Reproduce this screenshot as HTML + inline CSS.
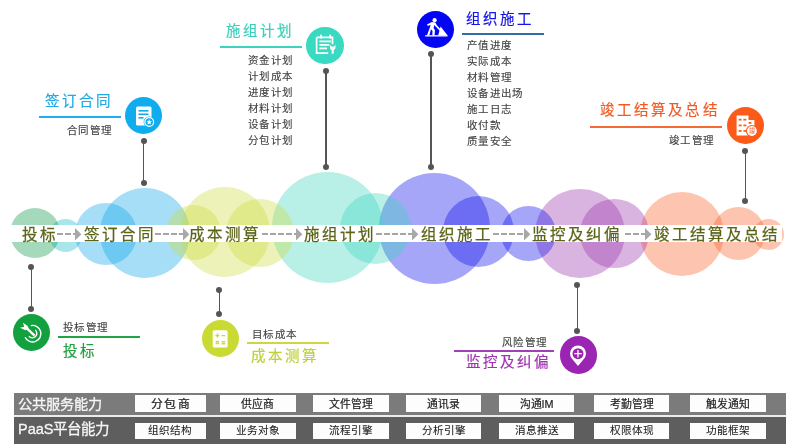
<!DOCTYPE html>
<html lang="zh-CN"><head><meta charset="utf-8">
<style>
html,body{margin:0;padding:0}
body{width:800px;height:444px;overflow:hidden;background:#fff;position:relative;font-family:"Liberation Sans",sans-serif}
.c{position:absolute;border-radius:50%}
.band{position:absolute;left:10px;top:225px;width:772px;height:17px;background:#fff}
.bt{position:absolute;top:223.9px;font-size:15.5px;line-height:22px;letter-spacing:2px;color:#5c6418;white-space:nowrap;-webkit-text-stroke:0.25px #5c6418;will-change:transform}
.ds{position:absolute;top:233.3px;height:1.4px;background:repeating-linear-gradient(90deg,#a6a6a6 0,#a6a6a6 5.7px,transparent 5.7px,transparent 8.1px)}
.ah{position:absolute;top:228px}
.ln{position:absolute;width:1.6px;background:#555}
.dt{position:absolute;width:6px;height:6px;border-radius:50%;background:#555}
.ic{position:absolute;width:37.4px;height:37.4px;border-radius:50%;overflow:hidden}
.ic svg{position:absolute;left:-0.3px;top:-0.3px}
.t{position:absolute;white-space:nowrap;will-change:transform}
.h{font-size:14.5px;line-height:20px;letter-spacing:3.1px;-webkit-text-stroke:0.2px currentColor}
.s{font-size:10.5px;line-height:16px;letter-spacing:1.3px;color:#404040;-webkit-text-stroke:0.12px #404040}
.ul{position:absolute;height:2px}
.bar1{position:absolute;left:14px;top:393px;width:772px;height:21.8px;background:#7b7b7b}
.sep{position:absolute;left:14px;top:414.8px;width:772px;height:2.1px;background:#ececec}
.bar2{position:absolute;left:14px;top:417px;width:772px;height:27px;background:#5e5e5e}
.bx{position:absolute;will-change:transform;background:#fdfdfd;color:#222;text-align:center;font-size:10.8px;line-height:19px;-webkit-text-stroke:0.2px #222}
.bx2{font-size:10.6px;line-height:15.6px;-webkit-text-stroke:0.08px #222}
.lb{position:absolute;will-change:transform;left:19px;color:#f6f6f6;font-size:14.5px;white-space:nowrap;-webkit-text-stroke:0.3px #f6f6f6}
</style></head><body>
<div class="c" style="left:639.7px;top:191.7px;width:84.6px;height:84.6px;background:rgba(249,91,36,0.36)"></div>
<div class="c" style="left:712.0px;top:207.0px;width:53.0px;height:53.0px;background:rgba(249,91,36,0.36)"></div>
<div class="c" style="left:752.5px;top:218.5px;width:31.0px;height:31.0px;background:rgba(249,91,36,0.36)"></div>
<div class="c" style="left:535.2px;top:188.7px;width:89.6px;height:89.6px;background:rgba(152,47,169,0.36)"></div>
<div class="c" style="left:580.2px;top:199.2px;width:68.6px;height:68.6px;background:rgba(152,47,169,0.36)"></div>
<div class="c" style="left:378.5px;top:173.0px;width:111.0px;height:111.0px;background:rgba(8,8,236,0.36)"></div>
<div class="c" style="left:442.5px;top:195.5px;width:71.0px;height:71.0px;background:rgba(8,8,236,0.36)"></div>
<div class="c" style="left:500.5px;top:205.5px;width:55.0px;height:55.0px;background:rgba(8,8,236,0.36)"></div>
<div class="c" style="left:271.5px;top:172.0px;width:111.0px;height:111.0px;background:rgba(58,213,191,0.36)"></div>
<div class="c" style="left:339.5px;top:192.5px;width:71.0px;height:71.0px;background:rgba(58,213,191,0.36)"></div>
<div class="c" style="left:48.5px;top:218.5px;width:33.0px;height:33.0px;background:rgba(13,186,202,0.36)"></div>
<div class="c" style="left:74.5px;top:203px;width:62px;height:62px;background:rgba(8,163,233,0.36)"></div>
<div class="c" style="left:99.5px;top:187.5px;width:90px;height:90px;background:rgba(8,163,233,0.36)"></div>
<div class="c" style="left:10.000000000000004px;top:207.8px;width:50.4px;height:50.4px;background:rgba(5,149,66,0.36)"></div>
<div class="c" style="left:165.8px;top:204.8px;width:55.0px;height:55.0px;background:rgba(205,219,58,0.36)"></div>
<div class="c" style="left:179.5px;top:186.5px;width:90px;height:90px;background:rgba(205,219,58,0.36)"></div>
<div class="c" style="left:226px;top:198.5px;width:68px;height:68px;background:rgba(205,219,58,0.36)"></div>
<div class="band"></div>
<div class="bt" style="left:21.8px">投标</div>
<div class="bt" style="left:83.5px">签订合同</div>
<div class="bt" style="left:189.3px">成本测算</div>
<div class="bt" style="left:304.3px">施组计划</div>
<div class="bt" style="left:421.3px">组织施工</div>
<div class="bt" style="left:532.3px">监控及纠偏</div>
<div class="bt" style="left:654px">竣工结算及总结</div>
<div class="ds" style="left:57px;width:19px"></div><svg class="ah" style="left:75px" width="7" height="13" viewBox="0 0 7 13"><path d="M0 0L6.4 6.3L0 12.5Z" fill="#a8a8a8"/></svg>
<div class="ds" style="left:155px;width:28.75px"></div><svg class="ah" style="left:182.75px" width="7" height="13" viewBox="0 0 7 13"><path d="M0 0L6.4 6.3L0 12.5Z" fill="#a8a8a8"/></svg>
<div class="ds" style="left:262px;width:35px"></div><svg class="ah" style="left:296px" width="7" height="13" viewBox="0 0 7 13"><path d="M0 0L6.4 6.3L0 12.5Z" fill="#a8a8a8"/></svg>
<div class="ds" style="left:376px;width:37px"></div><svg class="ah" style="left:412px" width="7" height="13" viewBox="0 0 7 13"><path d="M0 0L6.4 6.3L0 12.5Z" fill="#a8a8a8"/></svg>
<div class="ds" style="left:493.25px;width:31.75px"></div><svg class="ah" style="left:524px" width="7" height="13" viewBox="0 0 7 13"><path d="M0 0L6.4 6.3L0 12.5Z" fill="#a8a8a8"/></svg>
<div class="ds" style="left:625px;width:21px"></div><svg class="ah" style="left:645px" width="7" height="13" viewBox="0 0 7 13"><path d="M0 0L6.4 6.3L0 12.5Z" fill="#a8a8a8"/></svg>
<div class="ln" style="left:142.79999999999998px;top:141.1px;height:41.900000000000006px"></div><div class="dt" style="left:140.6px;top:138.1px"></div><div class="dt" style="left:140.6px;top:180px"></div>
<div class="ln" style="left:325.0px;top:70.8px;height:96.2px"></div><div class="dt" style="left:322.8px;top:67.8px"></div><div class="dt" style="left:322.8px;top:164px"></div>
<div class="ln" style="left:430.2px;top:54.4px;height:112.6px"></div><div class="dt" style="left:428px;top:51.4px"></div><div class="dt" style="left:428px;top:164px"></div>
<div class="ln" style="left:744.6px;top:150.7px;height:49.80000000000001px"></div><div class="dt" style="left:742.4px;top:147.7px"></div><div class="dt" style="left:742.4px;top:197.5px"></div>
<div class="ln" style="left:30.599999999999998px;top:267.2px;height:41.80000000000001px"></div><div class="dt" style="left:28.4px;top:264.2px"></div><div class="dt" style="left:28.4px;top:306px"></div>
<div class="ln" style="left:218.6px;top:290.1px;height:24.099999999999966px"></div><div class="dt" style="left:216.4px;top:287.1px"></div><div class="dt" style="left:216.4px;top:311.2px"></div>
<div class="ln" style="left:576.5px;top:284.5px;height:46.39999999999998px"></div><div class="dt" style="left:574.3px;top:281.5px"></div><div class="dt" style="left:574.3px;top:327.9px"></div>
<div class="ic" style="left:124.8px;top:96.8px;background:#10adee"><svg width="38" height="38" viewBox="-19 -19 38 38"><rect x="-8" y="-9.5" width="15.5" height="19" rx="1.5" fill="#fff"/><rect x="-5.5" y="-6" width="10" height="1.6" fill="#10adee"/><rect x="-5.5" y="-2.5" width="10" height="1.6" fill="#10adee"/><rect x="-5.5" y="1" width="5" height="1.6" fill="#10adee"/><circle cx="5.2" cy="6" r="5.6" fill="#10adee"/><circle cx="5.2" cy="6" r="4.4" fill="none" stroke="#fff" stroke-width="1.2"/><path d="M5.2 3.2L6 5.2L8 5.3L6.4 6.6L7 8.6L5.2 7.5L3.4 8.6L4 6.6L2.4 5.3L4.4 5.2Z" fill="#fff"/></svg></div>
<div class="ic" style="left:306.3px;top:26.7px;background:#3ad9c2"><svg width="38" height="38" viewBox="-19 -19 38 38"><path d="M-8.4 -7.6H7.5V-0.8" fill="none" stroke="#fff" stroke-width="1.7"/><path d="M-8.4 -7.6V8.2H3.2" fill="none" stroke="#fff" stroke-width="1.7"/><rect x="-4.9" y="-10.6" width="1.7" height="4.3" rx="0.6" fill="#fff"/><rect x="4.3" y="-10.6" width="1.7" height="4.3" rx="0.6" fill="#fff"/><rect x="-5.6" y="-4.5" width="11.6" height="1.8" fill="#fff"/><rect x="-5.6" y="-1" width="10" height="1.8" fill="#fff"/><rect x="-5.6" y="2.5" width="7.6" height="1.8" fill="#fff"/><path d="M4.9 -0.2V2.6Q4.9 4.4 6.7 5V8.8H8.7V5Q10.5 4.4 10.5 2.6V-0.2L9.1 1.6H6.3Z" fill="#fff"/></svg></div>
<div class="ic" style="left:417.0px;top:10.900000000000002px;background:#0505f5"><svg width="38" height="38" viewBox="-19 -19 38 38"><circle cx="-1.4" cy="-9.8" r="2.1" fill="#fff"/><path d="M-9 -5.6L-4.2 -7.9L-0.6 -7.6L1 -4.4L3.9 -1.6L3 -0.7L-0.2 -3.2L-1.6 -5L-2.4 -2.1L-1 0.2L-1.5 5.4H-3.7L-3.5 1L-5 -0.7L-6.7 5.4H-9.1L-6.1 -2.6L-5.4 -5.2L-8.2 -4.1Z" fill="#fff"/><path d="M1.4 -3.4L3.6 -1.2L4.6 0.6L3.9 1.1L2.5 -0.4L0.8 -2.6Z" fill="#fff"/><path d="M2.2 5.4L4.6 -3.4L11.6 5.4Z" fill="#fff"/><rect x="-10.8" y="5.2" width="22.3" height="1.3" fill="#fff"/></svg></div>
<div class="ic" style="left:726.5999999999999px;top:107.1px;background:#fc5a18"><svg width="38" height="38" viewBox="-19 -19 38 38"><path d="M-8.4 -10.4H3.5V-5.9H9.4V3H3V9.4H-8.4Z" fill="#fff"/><g fill="#fc5a18"><rect x="-6.4" y="-7.2" width="3" height="1.7"/><rect x="-1.6" y="-7.2" width="3" height="1.7"/><rect x="-6.4" y="-1.4" width="3" height="1.7"/><rect x="-1.6" y="-1.4" width="3" height="1.7"/><rect x="-6.4" y="4.1" width="3" height="1.7"/><rect x="-1.6" y="4.1" width="3" height="1.7"/><rect x="3.6" y="-4" width="2.8" height="1.8"/></g><circle cx="6.9" cy="5" r="6" fill="#fc5a18"/><circle cx="6.9" cy="5" r="4.9" fill="#fff"/><text x="6.9" y="7.4" font-size="6.4" text-anchor="middle" fill="#fc5a18">竣</text></svg></div>
<div class="ic" style="left:12.8px;top:313.90000000000003px;background:#13a03f"><svg width="38" height="38" viewBox="-19 -19 38 38"><path d="M-1.2 -7.4A8.3 8.3 0 1 1 -6.9 4.2" fill="none" stroke="#fff" stroke-width="1.4"/><path d="M3.3 -3A4.5 4.5 0 1 1 -3.1 3.3" fill="none" stroke="#fff" stroke-width="1.4"/><path d="M2.6 2.6L-6.2 -5.6" stroke="#fff" stroke-width="2.3"/><path d="M-12 -5.2L-7.8 -6.3L-9 -10.2L-4.6 -7.3L-3.2 -4.4L-6.4 -2.8Z" fill="#fff"/></svg></div>
<div class="ic" style="left:201.5px;top:320.1px;background:#c9db33"><svg width="38" height="38" viewBox="-19 -19 38 38"><rect x="-7.3" y="-8.8" width="14.9" height="17.3" rx="1.6" fill="#fff"/><g stroke="#c9db33" stroke-width="1.4"><path d="M-4.6 -3.4H-0.6M-2.6 -5.4V-1.4M1.6 -3.4H5.2"/><path d="M-4.2 1.9L-1 5.1M-1 1.9L-4.2 5.1M1.6 2.8H5.2M1.6 4.7H5.2"/></g></svg></div>
<div class="ic" style="left:559.5px;top:336.40000000000003px;background:#9b25b3"><svg width="38" height="38" viewBox="-19 -19 38 38"><path d="M0 11L-5.6 4.2A8 8 0 1 1 5.6 4.2Z" fill="#fff"/><circle cx="0" cy="-1.3" r="5.5" fill="#9b25b3"/><path d="M0 -5V2.4M-3.7 -1.3H3.7" stroke="#fff" stroke-width="1.3"/></svg></div>
<!-- callout texts -->
<div class="t h" style="left:45.3px;top:90.7px;color:#1eaae8">签订合同</div>
<div class="ul" style="left:39px;top:115.5px;width:82px;background:#22ace8"></div>
<div class="t s" style="left:67px;top:121.5px">合同管理</div>

<div class="t h" style="left:226.3px;top:20.7px;color:#3ccfbb">施组计划</div>
<div class="ul" style="left:220px;top:45.6px;width:82px;background:#3ed3bf"></div>
<div class="t s" style="left:248px;top:51.7px">资金计划<br>计划成本<br>进度计划<br>材料计划<br>设备计划<br>分包计划</div>

<div class="t h" style="left:466.3px;top:9px;color:#1414e6">组织施工</div>
<div class="ul" style="left:462px;top:33px;width:82px;background:#2f6fa8"></div>
<div class="t s" style="left:466.6px;top:36.5px">产值进度<br>实际成本<br>材料管理<br>设备进出场<br>施工日志<br>收付款<br>质量安全</div>

<div class="t h" style="left:599.7px;top:100px;color:#f25a24">竣工结算及总结</div>
<div class="ul" style="left:590px;top:125.5px;width:132px;background:#f36a35"></div>
<div class="t s" style="left:668.6px;top:132px">竣工管理</div>

<div class="t s" style="left:62.7px;top:319px">投标管理</div>
<div class="ul" style="left:58px;top:336.3px;width:82px;background:#22a544"></div>
<div class="t h" style="left:63px;top:341px;color:#20a040">投标</div>

<div class="t s" style="left:252px;top:326px">目标成本</div>
<div class="ul" style="left:246.5px;top:342.3px;width:82px;background:#cdd746"></div>
<div class="t h" style="left:250.5px;top:346px;color:#bfcf3f">成本测算</div>

<div class="t s" style="left:501.5px;top:334px">风险管理</div>
<div class="ul" style="left:453.7px;top:349.6px;width:100px;background:#a040b8"></div>
<div class="t h" style="left:466px;top:352px;color:#a032b2">监控及纠偏</div>

<div class="bar1"></div><div class="sep"></div><div class="bar2"></div>
<div class="lb" style="top:393.6px;line-height:20px;left:17.6px;font-size:14.2px">公共服务能力</div>
<div class="lb" style="top:418.8px;line-height:20px;left:18.2px">PaaS平台能力</div>
<div class="bx" style="left:135px;top:395px;width:70.6px;height:17px;letter-spacing:1.6px;text-indent:1.6px;font-size:11.8px;-webkit-text-stroke:0.22px #222">分包商</div>
<div class="bx bx2" style="left:135px;top:422.6px;width:70.6px;height:16.2px">组织结构</div>
<div class="bx" style="left:219.5px;top:395px;width:75.5px;height:17px">供应商</div>
<div class="bx bx2" style="left:219.5px;top:422.6px;width:75.5px;height:16.2px">业务对象</div>
<div class="bx" style="left:312.5px;top:395px;width:75.5px;height:17px">文件管理</div>
<div class="bx bx2" style="left:312.5px;top:422.6px;width:75.5px;height:16.2px">流程引擎</div>
<div class="bx" style="left:406.25px;top:395px;width:75.0px;height:17px">通讯录</div>
<div class="bx bx2" style="left:406.25px;top:422.6px;width:75.0px;height:16.2px">分析引擎</div>
<div class="bx" style="left:498.75px;top:395px;width:75.0px;height:17px">沟通IM</div>
<div class="bx bx2" style="left:498.75px;top:422.6px;width:75.0px;height:16.2px">消息推送</div>
<div class="bx" style="left:593.75px;top:395px;width:75.0px;height:17px">考勤管理</div>
<div class="bx bx2" style="left:593.75px;top:422.6px;width:75.0px;height:16.2px">权限体现</div>
<div class="bx" style="left:690px;top:395px;width:76.25px;height:17px">触发通知</div>
<div class="bx bx2" style="left:690px;top:422.6px;width:76.25px;height:16.2px">功能框架</div>
</body></html>
